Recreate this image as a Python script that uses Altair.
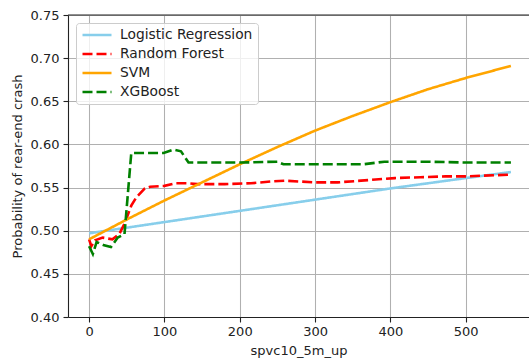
import altair as alt
import pandas as pd

models = ["Logistic Regression", "Random Forest", "SVM", "XGBoost"]

lr_x = [0, 100, 200, 300, 400, 500, 560]
lr_y = [0.497, 0.510, 0.523, 0.536, 0.549, 0.561, 0.568]

rf_x = [0, 3, 8, 18, 31, 40, 47, 56, 63, 74, 81, 100, 115, 130, 144, 180, 215, 241, 260,
        300, 330, 361, 406, 440, 473, 500, 560]
rf_y = [0.490, 0.482, 0.489, 0.492, 0.490, 0.496, 0.508, 0.529, 0.539, 0.549, 0.551, 0.552,
        0.555, 0.555, 0.554, 0.554, 0.555, 0.557, 0.558, 0.556, 0.556, 0.558, 0.561, 0.562,
        0.563, 0.563, 0.565]

svm_x = [0, 50, 100, 150, 200, 250, 300, 350, 400, 450, 500, 560]
svm_y = [0.490, 0.513, 0.535, 0.556, 0.577, 0.597, 0.616, 0.633, 0.649, 0.664, 0.677, 0.691]

xgb_x = [0, 5, 10, 20, 29, 38, 47, 56, 70, 99, 112, 122, 132, 160, 200, 250, 258, 300, 364,
         392, 450, 500, 560]
xgb_y = [0.482, 0.473, 0.487, 0.483, 0.481, 0.492, 0.496, 0.590, 0.590, 0.590, 0.594, 0.592,
         0.579, 0.579, 0.579, 0.580, 0.577, 0.577, 0.577, 0.580, 0.580, 0.579, 0.579]

x_ticks = [0, 100, 200, 300, 400, 500]
y_ticks = [0.40, 0.45, 0.50, 0.55, 0.60, 0.65, 0.70, 0.75]

colors = ["#87CEEB", "#FF0000", "#FFA500", "#008000"]
dashes = [[1, 0], [10, 4], [1, 0], [10, 4]]

rows = []
for name, xs, ys in zip(models, [lr_x, rf_x, svm_x, xgb_x], [lr_y, rf_y, svm_y, xgb_y]):
    for i, (xv, yv) in enumerate(zip(xs, ys)):
        rows.append({"model": name, "x": xv, "y": yv, "order": i})
df = pd.DataFrame(rows)

font = "DejaVu Sans"
dark = "#222222"

xscale = alt.Scale(domain=[-28, 584], nice=False, zero=False)
yscale = alt.Scale(domain=[0.40, 0.75], nice=False, zero=False)

lines = alt.Chart(df).mark_line(strokeWidth=2.6, clip=True).encode(
    x=alt.X("x:Q", scale=xscale,
            axis=alt.Axis(title="spvc10_5m_up", values=x_ticks, format="d",
                          titlePadding=6, labelPadding=3)),
    y=alt.Y("y:Q", scale=yscale,
            axis=alt.Axis(title="Probability of rear-end crash", values=y_ticks, format=".2f",
                          titlePadding=6, labelPadding=4)),
    color=alt.Color("model:N", scale=alt.Scale(domain=models, range=colors),
                    legend=alt.Legend(title=None, orient="none", legendX=8, legendY=8,
                                      fillColor="rgba(255,255,255,0.8)", strokeColor="#cccccc",
                                      cornerRadius=3, padding=5, symbolType="stroke",
                                      symbolSize=841, symbolStrokeWidth=2.6,
                                      labelFontSize=13.8, labelFont=font, labelColor=dark,
                                      labelOffset=7, rowPadding=5, clipHeight=14)),
    strokeDash=alt.StrokeDash("model:N", scale=alt.Scale(domain=models, range=dashes),
                              legend=None),
    order="order:Q",
)

top = alt.Chart(pd.DataFrame({"y": [0.75]})).mark_rule(color=dark, strokeWidth=1.1).encode(
    y=alt.Y("y:Q", scale=yscale)
)

chart = alt.layer(lines, top).resolve_scale(strokeDash="shared").properties(
    width=461, height=302,
    autosize=alt.AutoSizeParams(type="none"),
    padding={"left": 68, "top": 15, "right": 0, "bottom": 45},
).configure_view(stroke=None).configure_axis(
    grid=True, gridColor="#b0b0b0", gridWidth=1.05,
    domainColor=dark, domainWidth=1.1,
    tickColor=dark, tickSize=5, tickWidth=1.1,
    labelFont=font, labelFontSize=13, labelColor=dark,
    titleFont=font, titleFontSize=13, titleColor=dark, titleFontWeight="normal",
)

chart.save("out.html", embed_options={"renderer": "svg", "actions": False})
